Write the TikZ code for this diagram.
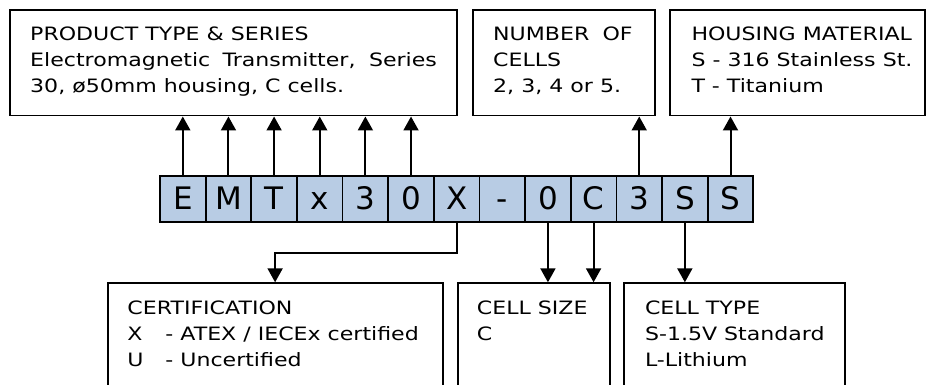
\documentclass[tikz,border=0pt]{standalone}
\usepackage{fontspec}
\setmainfont{DejaVu Sans}[FakeStretch=1.2]
\newfontfamily\cellfont{DejaVu Sans}
\usetikzlibrary{arrows.meta,positioning}
\definecolor{cellblue}{HTML}{B8CCE4}
\begin{document}
\begin{tikzpicture}
[x=1pt, y=-1pt,
every node/.style={inner sep=0pt},
box/.style={draw, line width=1.8pt, anchor=north west},
txt/.style={align=left, font=\fontsize{18.4}{26}\selectfont},
cell/.style={draw, line width=1.8pt, fill=cellblue, minimum width=45.64pt, minimum height=46pt,
  text height=22.5pt, text depth=0pt, font=\cellfont\fontsize{31}{31}\selectfont},
link/.style={line width=2pt, -{Triangle[width=15pt,length=14pt]}}
]
\useasboundingbox (0,0) rectangle (926,385);
\clip (0,0) rectangle (926,385);
\node[box, minimum width=447pt, minimum height=105.7pt] (product) at (9,9) {};
\node[box, minimum width=182pt, minimum height=105.7pt] (number) at (472,9) {};
\node[box, minimum width=254.7pt, minimum height=105.7pt] (housing) at (669.3,9) {};
\node[box, minimum width=335pt, minimum height=130pt] (cert) at (106.7,282.3) {};
\node[box, minimum width=152.3pt, minimum height=130pt] (size) at (456.7,282.3) {};
\node[box, minimum width=221pt, minimum height=130pt] (type) at (623.3,282.3) {};
\node[txt, below right=17.5pt and 21pt of product.north west] (producttxt)
  {PRODUCT TYPE \& SERIES\\ \makebox[406.7pt][s]{Electromagnetic Transmitter, Series}\\ 30, ø50mm housing, C cells.};
\node[txt, below right=17.5pt and 21pt of number.north west] (numbertxt)
  {\makebox[139.4pt][s]{NUMBER OF}\\ CELLS\\ 2, 3, 4 or 5.};
\node[txt, below right=17.5pt and 22pt of housing.north west] (housingtxt)
  {HOUSING MATERIAL\\ S - 316 Stainless St.\\ T - Titanium};
\node[txt, below right=18.5pt and 20.5pt of cert.north west] (certtxt)
  {CERTIFICATION\\ \makebox[38pt][l]{X}- ATEX / IECEx certified\\ \makebox[38pt][l]{U}- Uncertified};
\node[txt, below right=18.5pt and 20pt of size.north west] (sizetxt)
  {CELL SIZE\\ C};
\node[txt, below right=18.5pt and 21.5pt of type.north west] (typetxt)
  {CELL TYPE\\ S-1.5V Standard\\ L-Lithium};
\foreach \ch [count=\i from 0] in {E,M,T,x,3,0,X,-,0,C,3,S,S}
  \node[cell] (c\i) at (182.82+45.64*\i,198.7) {\ch};
\foreach \i in {0,...,5}
  \draw[link] (c\i.north) -- (c\i.north |- product.south);
\draw[link] (c10.north) -- (c10.north |- number.south);
\draw[link] (c12.north) -- (c12.north |- housing.south);
\draw[link] (c6.south) -- ++(0,30.5) -| (cert.north);
\draw[link] (c8.south) -- (c8.south |- size.north);
\draw[link] (c9.south) -- (c9.south |- size.north);
\draw[link] (c11.south) -- (c11.south |- type.north);
\end{tikzpicture}
\end{document}
